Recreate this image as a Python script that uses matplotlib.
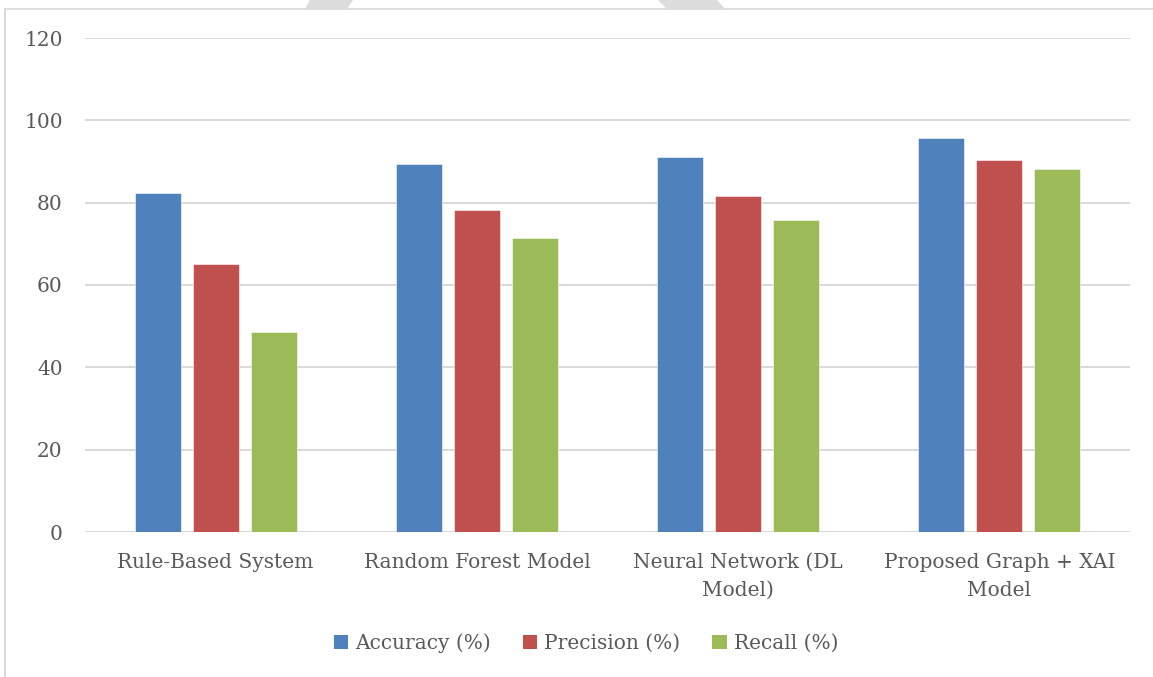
import matplotlib
matplotlib.use("Agg")
import matplotlib.pyplot as plt
import numpy as np
from matplotlib.patches import Patch, Polygon
from matplotlib.lines import Line2D

# model comparison data
models = ["Rule-Based System", "Random Forest Model",
          "Neural Network (DL\nModel)", "Proposed Graph + XAI\nModel"]
accuracy = [82.4, 89.5, 91.2, 95.7]
precision = [65.2, 78.2, 81.6, 90.4]
recall = [48.7, 71.5, 75.8, 88.1]
series_names = ["Accuracy (%)", "Precision (%)", "Recall (%)"]
colors = ["#4f81bd", "#c0504d", "#9bbb59"]
yticks = [0, 20, 40, 60, 80, 100, 120]

W, H = 1153, 677
plt.rcParams['font.family'] = ['DejaVu Serif']
fig = plt.figure(figsize=(W / 100, H / 100), dpi=100)
fig.patch.set_facecolor("white")

def px(x, y):
    return (x / W, 1 - y / H)

# grey page shapes along the top edge
for pts in ([(310, 0), (353, 0), (347, 9), (305, 9)],
            [(658, 0), (717, 0), (725, 9), (667, 9)]):
    fig.add_artist(Polygon([px(*p) for p in pts], closed=True,
                           transform=fig.transFigure, facecolor="#dcdcdc",
                           edgecolor="none"))

# chart frame (top and left edges visible)
fig.add_artist(Line2D([px(5, 9)[0], 1.0], [px(5, 9)[1]] * 2,
                      transform=fig.transFigure, color="#d9d9d9", lw=1.2))
fig.add_artist(Line2D([px(5, 9)[0]] * 2, [px(5, 9)[1], 0.0],
                      transform=fig.transFigure, color="#d9d9d9", lw=1.5))

left, right = 85 / W, 1130 / W
bottom, top = 1 - 532 / H, 1 - 38 / H
ax = fig.add_axes([left, bottom, right - left, top - bottom])

x = np.arange(len(models))
width = 0.176
step = 0.222
for i, (vals, c) in enumerate(zip([accuracy, precision, recall], colors)):
    ax.bar(x + (i - 1) * step, vals, width, color=c, edgecolor="white",
           linewidth=0.4, zorder=3)

ax.set_xlim(-0.5, len(models) - 0.5)
ax.set_ylim(0, 120)
ax.set_yticks(yticks)
ax.set_xticks(x)
ax.set_xticklabels(models, linespacing=1.6)
ax.yaxis.grid(True, color="#d9d9d9", linewidth=1.4, zorder=0)
ax.set_axisbelow(True)
for s in ax.spines.values():
    s.set_visible(False)
ax.tick_params(axis="both", length=0, colors="#595959", labelsize=14.5)
ax.tick_params(axis="y", pad=16)
ax.tick_params(axis="x", pad=15)

handles = [Patch(facecolor=c, edgecolor="none") for c in colors]
fig.legend(handles, series_names, loc="center", bbox_to_anchor=px(586, 643),
           ncol=3, frameon=False, fontsize=14.5, handlelength=0.7,
           handleheight=0.7, handletextpad=0.35, columnspacing=1.6,
           labelcolor="#595959")

fig.savefig("out.png", dpi=100, facecolor="white")
